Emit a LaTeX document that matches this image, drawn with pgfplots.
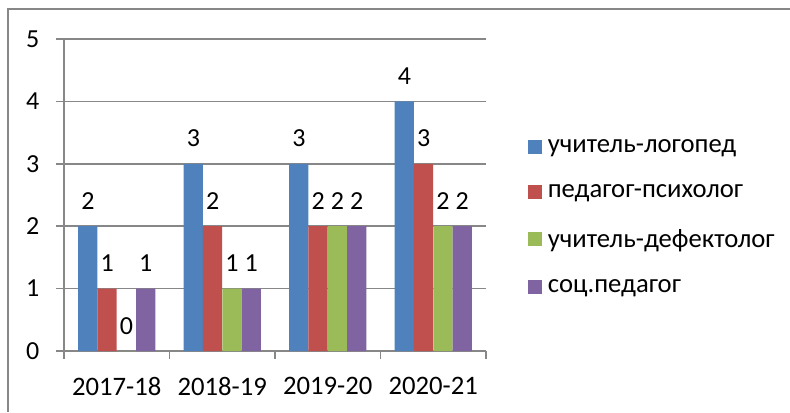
\documentclass[border=0pt]{standalone}
\usepackage{pgfplots}
\pgfplotsset{compat=1.18}
\usepackage{fontspec}
\setmainfont{Carlito}
\definecolor{c1}{HTML}{4F81BD}
\definecolor{c2}{HTML}{C0504D}
\definecolor{c3}{HTML}{9BBB59}
\definecolor{c4}{HTML}{8064A2}
\definecolor{gridc}{HTML}{878787}
\begin{document}
\begin{tikzpicture}[x=0.75pt,y=0.75pt]
\path[use as bounding box] (0,0) rectangle (790,412);
\draw[gridc, line width=1.1pt] (8,0) -- (8,403) -- (790,403);
\begin{axis}[
  at={(48pt,45.75pt)}, anchor=south west,
  scale only axis, width=316.5pt, height=234pt,
  xmin=-0.5, xmax=3.5, ymin=0, ymax=5,
  ytick={0,1,2,3,4,5},
  xtick={-0.5,0.5,1.5,2.5,3.5},
  x tick label as interval,
  xticklabels={2017-18,2018-19,2019-20,2020-21},
  axis x line*=bottom, axis y line*=left,
  axis line style={gridc, line width=1.1pt, -},
  ymajorgrids, grid style={gridc, line width=1.1pt},
  tick align=outside, major tick length=6pt,
  every tick/.style={gridc, line width=1.1pt},
  /pgf/number format/assume math mode=true,
  yticklabel style={font=\fontsize{19.5}{22}\selectfont, text=black, xshift=-9pt},
  xticklabel style={font=\fontsize{20}{23}\selectfont, text=black, yshift=-10pt},
  ybar, bar width=0.1825,
  nodes near coords,
  every node near coord/.append style={font=\fontsize{19.5}{22}\selectfont, text=black, anchor=center, yshift=19pt},
  legend style={draw=none, fill=none, at={(1.10,0.43)}, anchor=west, font=\fontsize{20}{23}\selectfont, inner sep=0pt, row sep=18.5pt},
  legend cell align=left,
  legend image code/.code={\fill[#1,draw=none] (0pt,-5.25pt) rectangle (10.5pt,5.25pt);},
  /tikz/every odd column/.append style={column sep=2pt},
]
\addplot[fill=c1, draw=none, bar shift=-0.2738] coordinates {(0,2) (1,3) (2,3) (3,4)};
\addplot[fill=c2, draw=none, bar shift=-0.0913] coordinates {(0,1) (1,2) (2,2) (3,3)};
\addplot[fill=c3, draw=none, bar shift=0.0913] coordinates {(0,0) (1,1) (2,2) (3,2)};
\addplot[fill=c4, draw=none, bar shift=0.2738] coordinates {(0,1) (1,1) (2,2) (3,2)};
\legend{учитель-логопед, педагог-психолог, учитель-дефектолог, соц.педагог}
\end{axis}
\end{tikzpicture}
\end{document}
